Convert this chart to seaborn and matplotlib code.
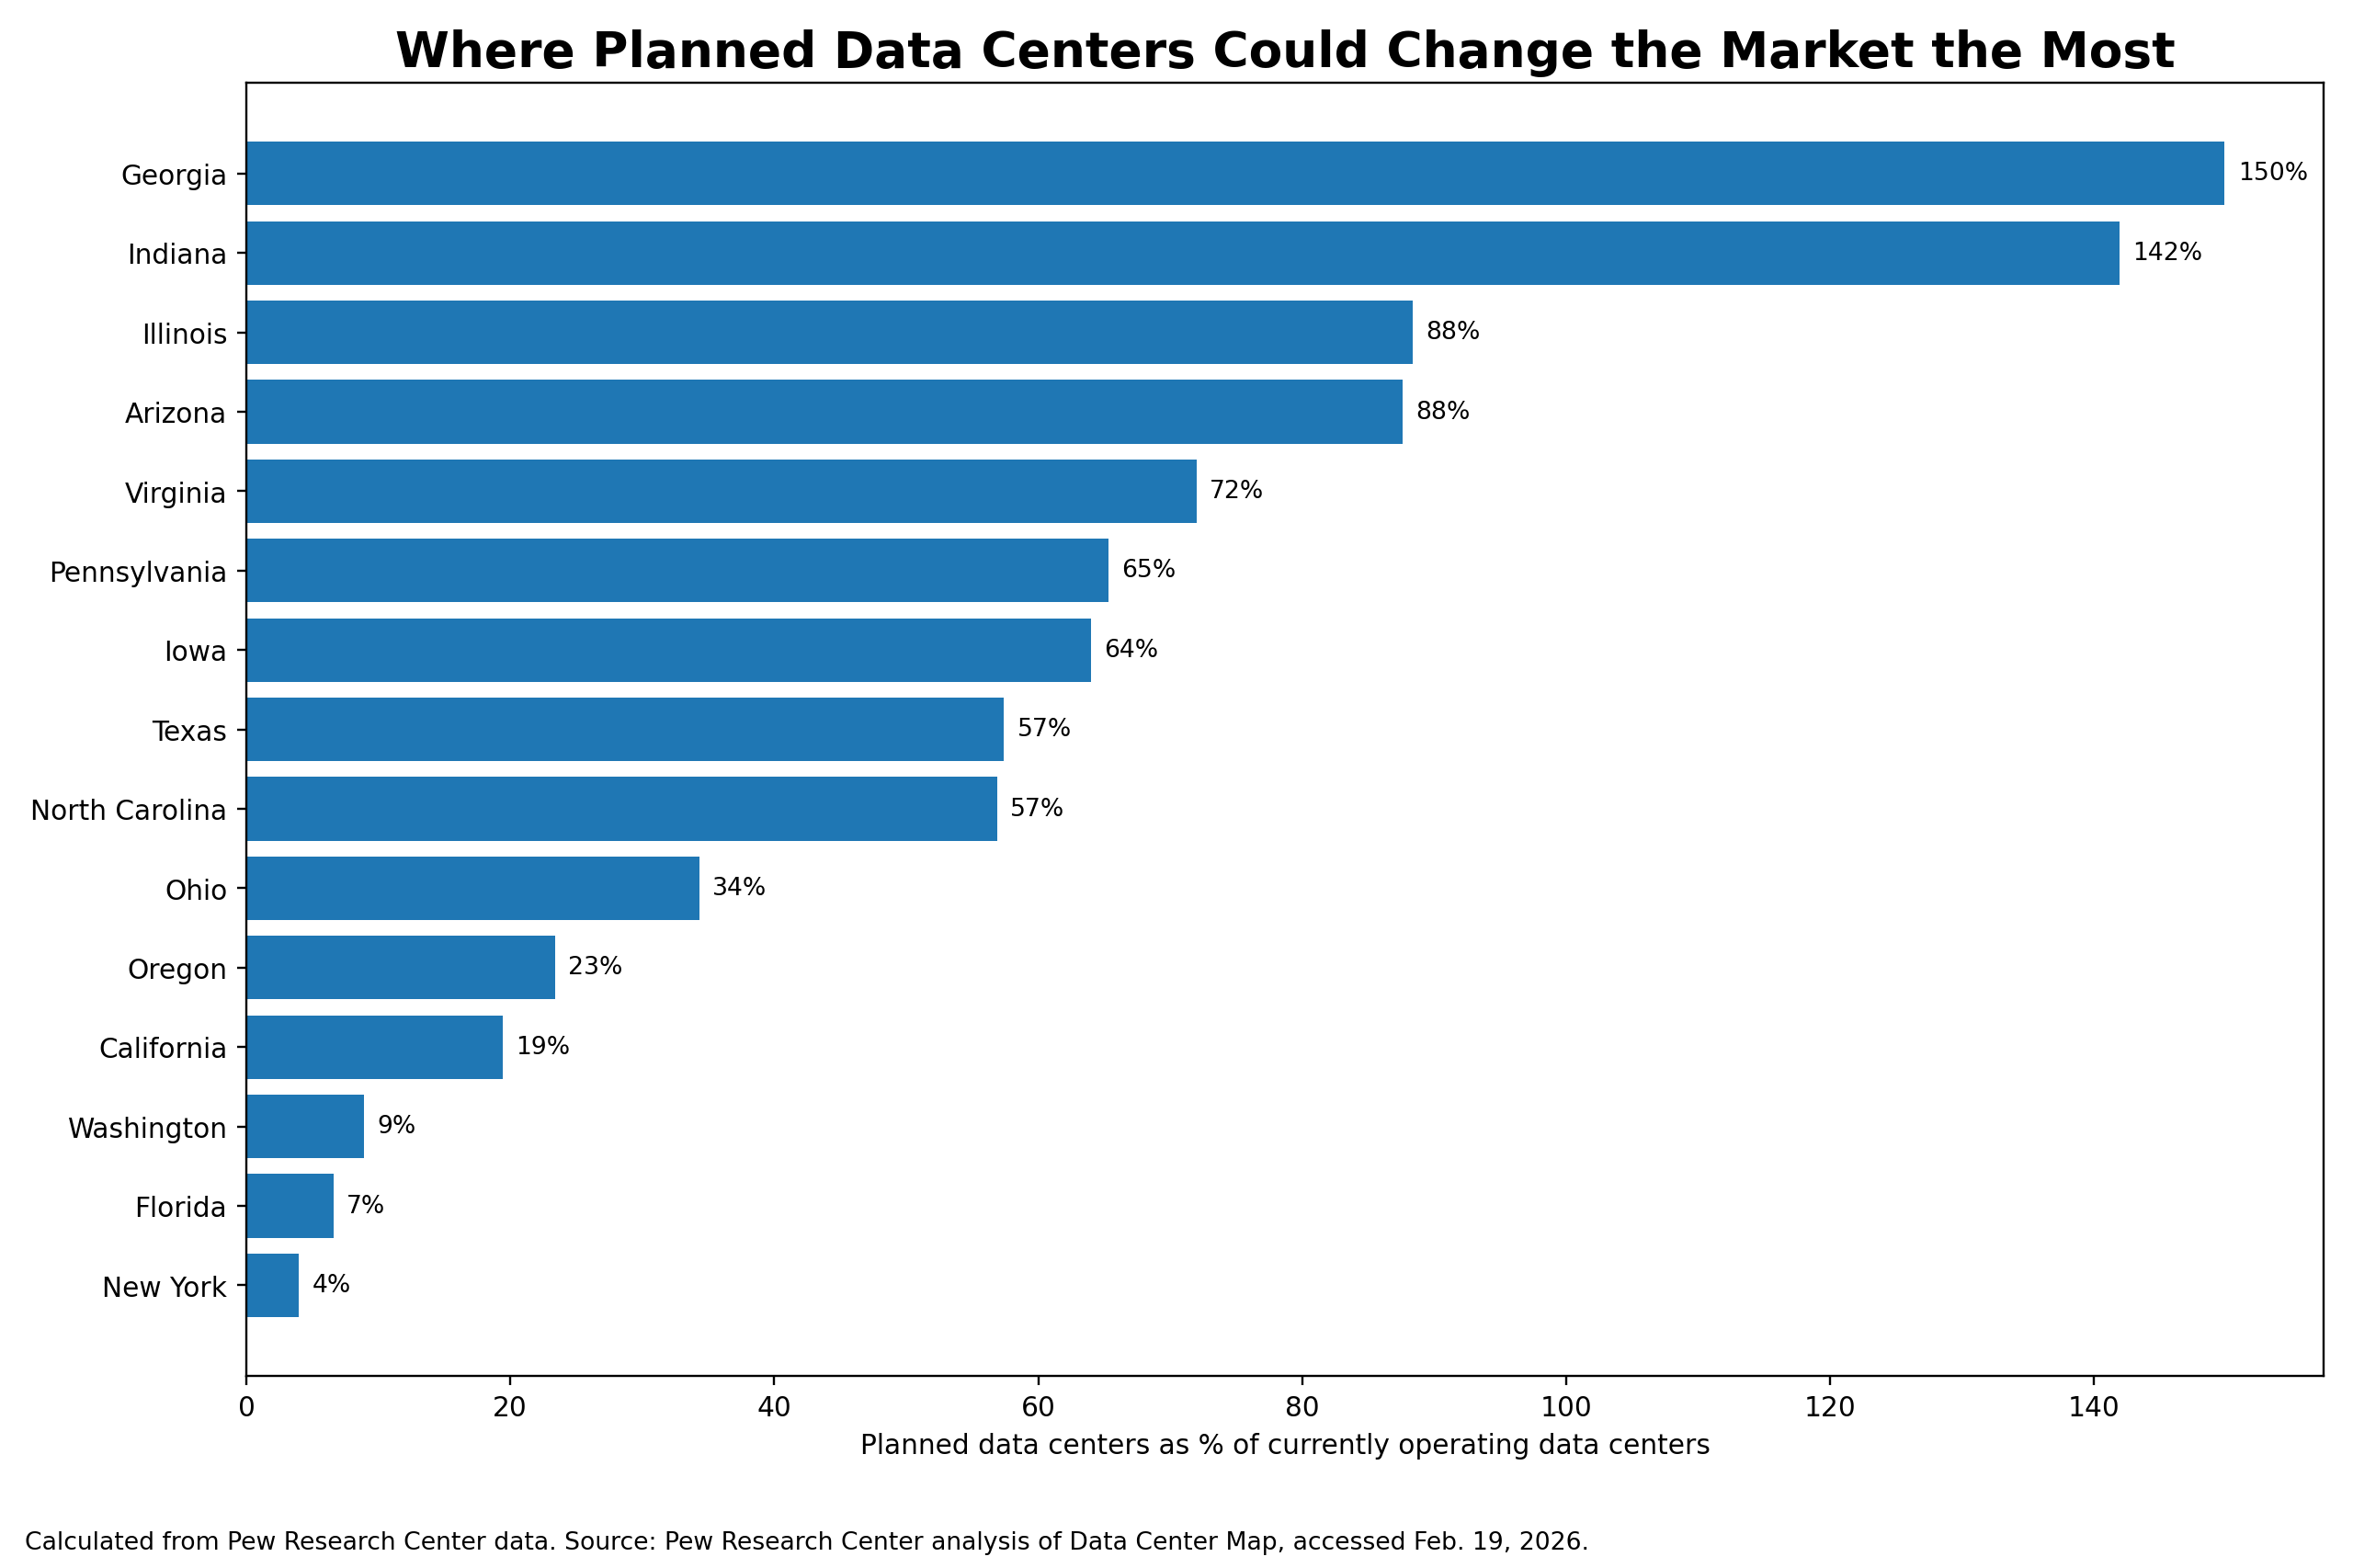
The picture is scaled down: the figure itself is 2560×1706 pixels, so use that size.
import matplotlib
matplotlib.use("Agg")
import matplotlib.pyplot as plt
import seaborn as sns
import pandas as pd

states = ["Georgia", "Indiana", "Illinois", "Arizona", "Virginia", "Pennsylvania",
          "Iowa", "Texas", "North Carolina", "Ohio", "Oregon", "California",
          "Washington", "Florida", "New York"]
pct = [149.9, 141.9, 88.4, 87.6, 72.0, 65.3, 64.0, 57.4, 56.9, 34.3, 23.4, 19.4,
       8.9, 6.6, 4.0]

df = pd.DataFrame({"state": states, "pct": pct})

sns.set_style("ticks")
plt.rcParams["font.family"] = ["DejaVu Sans"]
plt.rcParams["text.color"] = "black"
plt.rcParams["axes.labelcolor"] = "black"
plt.rcParams["xtick.color"] = "black"
plt.rcParams["ytick.color"] = "black"
plt.rcParams["axes.edgecolor"] = "black"

fig, ax = plt.subplots(figsize=(12, 8), dpi=2560 / 12)
sns.barplot(data=df, y="state", x="pct", orient="h", color="#1f77b4",
            saturation=1, width=0.8, linewidth=0, ax=ax)

for i, v in enumerate(pct):
    ax.text(v + 1, i, f"{v:.0f}%", va="center", ha="left", fontsize=9)

ax.set_xlim(0, max(pct) * 1.05)
# default matplotlib margins around the bars
pad = 0.05 * (len(states) - 1 + 0.8)
ax.set_ylim(len(states) - 0.6 + pad, -0.4 - pad)
ax.set_ylabel("")
ax.set_xlabel("Planned data centers as % of currently operating data centers", fontsize=10)
ax.set_title("Where Planned Data Centers Could Change the Market the Most",
             fontsize=18, fontweight="bold")
ax.tick_params(labelsize=10, width=0.8, length=3.5)
for s in ax.spines.values():
    s.set_visible(True)
    s.set_linewidth(0.8)

fig.text(0.0105, 0.016, "Calculated from Pew Research Center data. Source: Pew Research Center "
         "analysis of Data Center Map, accessed Feb. 19, 2026.", fontsize=9, ha="left",
         va="center")
fig.subplots_adjust(left=0.1047, right=0.9875, bottom=0.1225, top=0.9467)
fig.savefig("out.png", dpi=2560 / 12)
